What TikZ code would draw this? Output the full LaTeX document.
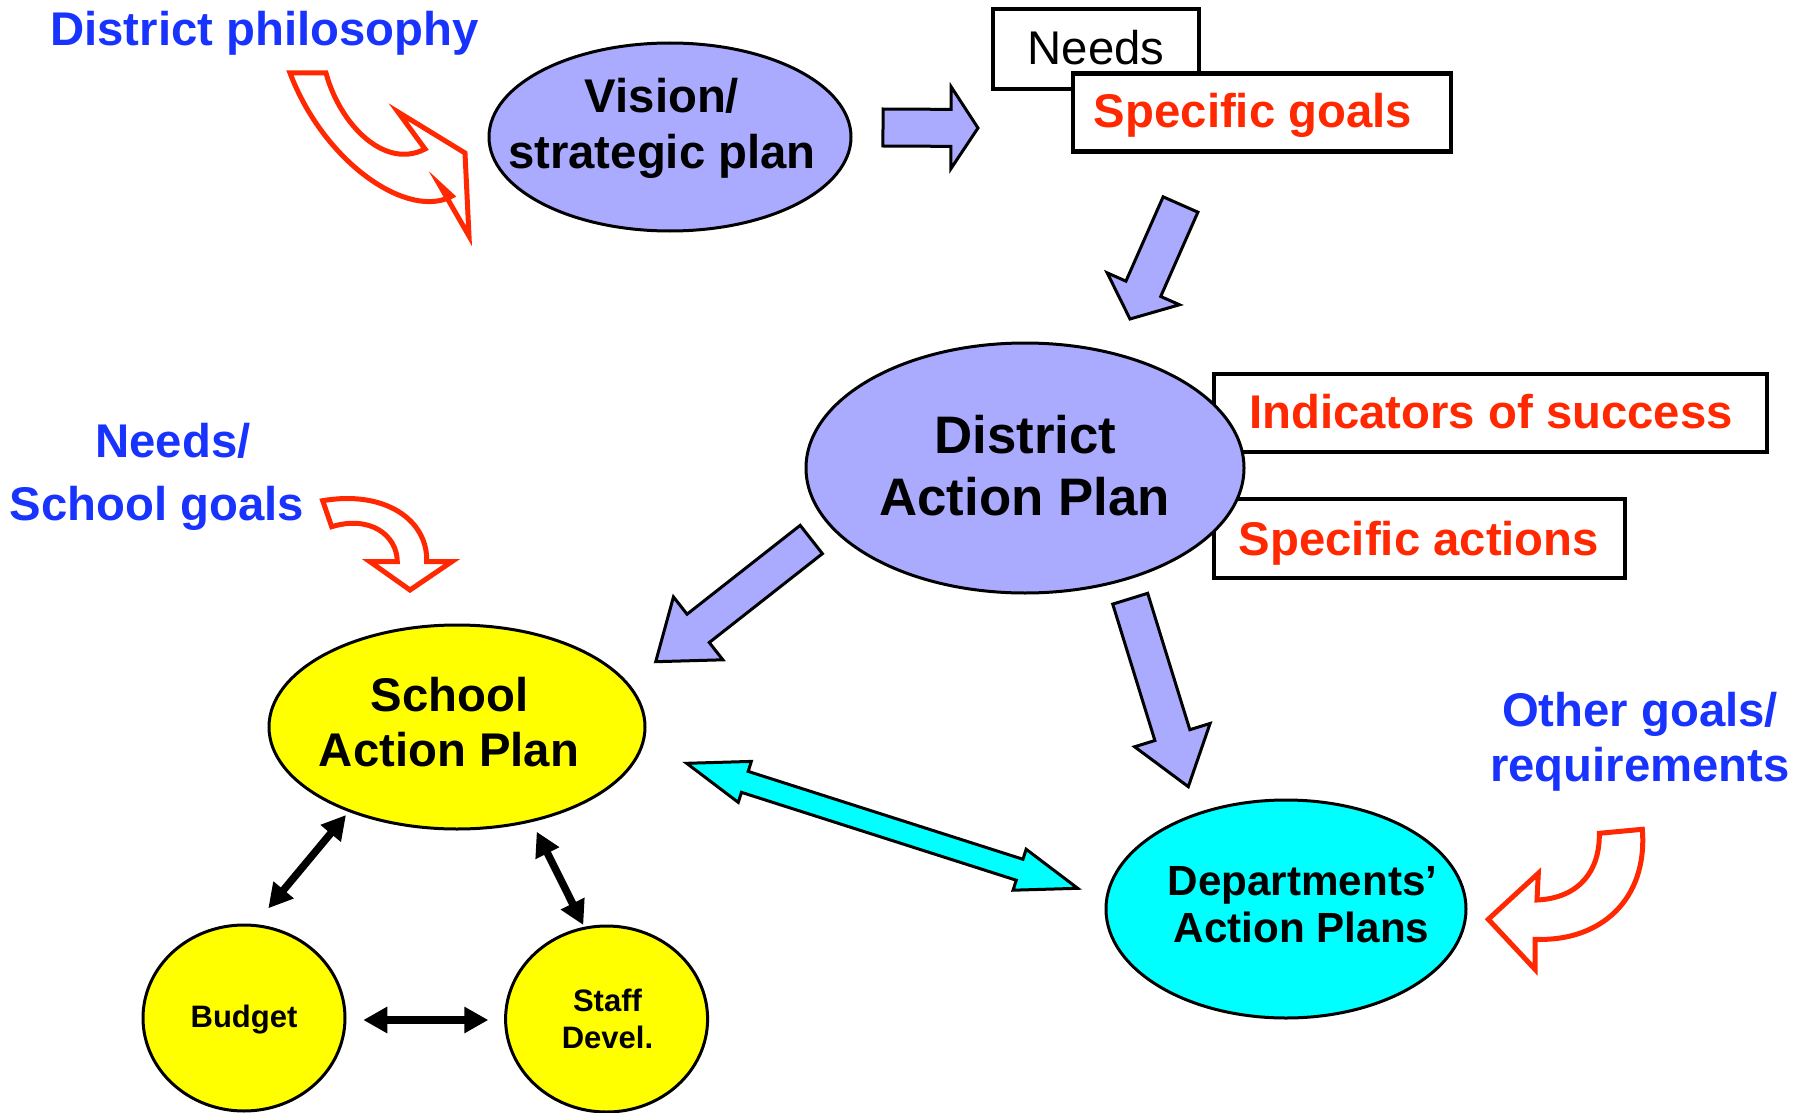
\documentclass[tikz,border=0pt]{standalone}
\usepackage{fontspec}
\setmainfont{Liberation Sans}
\usetikzlibrary{calc,shapes.geometric,arrows.meta}

\definecolor{lav}{RGB}{170,170,255}
\definecolor{aqua}{RGB}{0,255,255}
\definecolor{lemon}{RGB}{255,255,0}
\definecolor{redc}{RGB}{255,40,0}
\definecolor{bluec}{RGB}{25,51,255}

% straight block arrow: [style]{tail}{tip}{shaft half width}{head half width}{head length}
\newcommand\blockarrow[6][]{%
  \draw[#1] ($(#2)!#4!90:(#3)$)
    -- ($(#3)!#6!(#2)!#4!-90:(#2)$)
    -- ($(#3)!#6!(#2)!#5!-90:(#2)$)
    -- (#3)
    -- ($(#3)!#6!(#2)!#5!90:(#2)$)
    -- ($(#3)!#6!(#2)!#4!90:(#2)$)
    -- ($(#2)!#4!-90:(#3)$) -- cycle;}

% two-headed block arrow: [style]{tip A}{tip B}{shaft half width}{head half width}{head length}
\newcommand\dblockarrow[6][]{%
  \draw[#1] (#2)
    -- ($(#2)!#6!(#3)!#5!90:(#3)$)
    -- ($(#2)!#6!(#3)!#4!90:(#3)$)
    -- ($(#3)!#6!(#2)!#4!-90:(#2)$)
    -- ($(#3)!#6!(#2)!#5!-90:(#2)$)
    -- (#3)
    -- ($(#3)!#6!(#2)!#5!90:(#2)$)
    -- ($(#3)!#6!(#2)!#4!90:(#2)$)
    -- ($(#2)!#6!(#3)!#4!-90:(#3)$)
    -- ($(#2)!#6!(#3)!#5!-90:(#3)$)
    -- cycle;}

\begin{document}
\begin{tikzpicture}[x=1pt,y=-1pt,
  oval/.style={ellipse,draw=black,line width=3pt,inner sep=0pt},
  box/.style={rectangle,draw=black,line width=4.5pt,fill=white,inner sep=0pt},
  txt/.style={anchor=base,inner sep=0pt},
  bluetxt/.style={txt,text=bluec,font=\bfseries\fontsize{47.3}{56}\selectfont},
  redtxt/.style={txt,text=redc,font=\bfseries\fontsize{47.3}{56}\selectfont},
  blacktxt/.style={txt,font=\bfseries\fontsize{47.3}{56}\selectfont},
  plaintxt/.style={txt,font=\fontsize{47.3}{56}\selectfont},
  bigtxt/.style={txt,font=\bfseries\fontsize{52.8}{60}\selectfont},
  medtxt/.style={txt,font=\bfseries\fontsize{42.2}{48}\selectfont},
  smalltxt/.style={txt,font=\bfseries\fontsize{31}{37}\selectfont},
  lavarrow/.style={draw=black,line width=3pt,fill=lav,line join=miter},
  aquaarrow/.style={draw=black,line width=3pt,fill=aqua,line join=miter},
  curvy/.style={draw=redc,line width=5pt,fill=white,line join=miter},
  biarrow/.style={line width=7.5pt,{Triangle[length=24pt,width=25pt]}-{Triangle[length=24pt,width=25pt]}}
]
\useasboundingbox[fill=white] (0,0) rectangle (1810,1113);

% ---- boxes beside the district plan (behind its ellipse)
\node[box,minimum width=553pt,minimum height=78pt] (indbox) at (1490.5,413) {};
\node[box,minimum width=411pt,minimum height=79pt] (actbox) at (1419.5,538.7) {};

% ---- boxes for needs and goals
\node[box,minimum width=206pt,minimum height=80pt] (needsbox) at (1096,49) {};
\node[box,minimum width=378pt,minimum height=78pt] (goalsbox) at (1262,112.5) {};

% ---- plan ellipses
\node[oval,fill=lav,minimum width=362pt,minimum height=188pt] (vision) at (670,137) {};
\node[oval,fill=lav,minimum width=438pt,minimum height=250pt] (district) at (1025,468) {};
\node[oval,fill=lemon,minimum width=376pt,minimum height=204pt] (school) at (457,727) {};
\node[oval,fill=aqua,minimum width=360pt,minimum height=218pt] (depts) at (1286,909) {};
\node[oval,fill=lemon,minimum width=202pt,minimum height=186pt] (budget) at (244,1018) {};
\node[oval,fill=lemon,minimum width=202pt,minimum height=186pt] (staff) at (606.6,1019) {};

% ---- texts
\node[bluetxt] (philo) at (264.5,46) {District philosophy};
\node[blacktxt] (vis1) at (662,113) {Vision/};
\node[blacktxt] (vis2) at (662,168) {strategic plan};
\node[plaintxt] (needst) at (1096,65) {Needs};
\node[redtxt] (goalst) at (1253,128) {Specific goals};
\node[bigtxt] (dist1) at (1025.5,453.5) {District};
\node[bigtxt] (dist2) at (1024.5,515) {Action Plan};
\node[redtxt] (indt) at (1491,428.5) {Indicators of success};
\node[redtxt] (actt) at (1419,555) {Specific actions};
\node[blacktxt] (sch1) at (449.5,711) {School};
\node[blacktxt] (sch2) at (449,766) {Action Plan};
\node[medtxt] (dep1) at (1302.5,895) {Departments’};
\node[medtxt] (dep2) at (1301.5,942) {Action Plans};
\node[smalltxt] (budt) at (244,1027) {Budget};
\node[smalltxt] (stf1) at (607.5,1011) {Staff};
\node[smalltxt] (stf2) at (607.5,1048) {Devel.};
\node[bluetxt] (ng1) at (173,457) {Needs/};
\node[bluetxt] (ng2) at (157,520) {School goals};
\node[bluetxt] (og1) at (1640,726) {Other goals/};
\node[bluetxt] (og2) at (1640,781) {requirements};

% ---- block arrow ends
\coordinate (a1s) at (883,127.5);   \coordinate (a1t) at (978,128);
\coordinate (a2s) at (1180.5,204.5); \coordinate (a2t) at (1130,319);
\coordinate (a3s) at (811.3,539.5); \coordinate (a3t) at (655.7,661.7);
\coordinate (a4s) at (1130.2,598.7); \coordinate (a4t) at (1188.3,786.7);
\coordinate (c1) at (686.7,763.3);  \coordinate (c2) at (1077.7,888.3);

\blockarrow[lavarrow]{a1s}{a1t}{18.5pt}{41pt}{27pt}
\blockarrow[lavarrow]{a2s}{a2t}{19pt}{39.5pt}{33pt}
\blockarrow[lavarrow]{a3s}{a3t}{18pt}{40pt}{54pt}
\blockarrow[lavarrow]{a4s}{a4t}{18.3pt}{39.5pt}{54pt}
\dblockarrow[aquaarrow]{c1}{c2}{11pt}{21.5pt}{61pt}

% ---- links between the school plan, budget and staff development
\coordinate (sb1) at (346,815);   \coordinate (sb2) at (268.3,908.3);
\coordinate (ss1) at (536.7,831.7); \coordinate (ss2) at (583.3,925);
\coordinate (bs1) at (363.3,1020); \coordinate (bs2) at (488.3,1020);
\draw[biarrow] (sb1) -- (sb2);
\draw[biarrow] (ss1) -- (ss2);
\draw[biarrow] (bs1) -- (bs2);

% ---- hollow curved red arrows
\draw[curvy] (290,73) -- (326,73)
  .. controls (340,125) and (385,170) .. (425,149)
  -- (398,112) -- (465,153) -- (469,236) -- (439,184) -- (452,196)
  .. controls (410,220) and (325,165) .. cycle;
\draw[curvy] (322.7,500.7)
  .. controls (385,490) and (428,520) .. (426.7,561.7)
  -- (451.7,561.7) -- (410,590) -- (370,561.7) -- (397.3,561.7)
  .. controls (397,535) and (370,515) .. (331.7,526.7) -- cycle;
\draw[curvy] (1599.3,833.3) -- (1642.3,829.3)
  .. controls (1648,900) and (1600,942) .. (1535,939.3)
  -- (1535,969.3) -- (1488.3,919.3) -- (1538.3,873.3) -- (1537,900)
  .. controls (1580,898) and (1600,870) .. cycle;
\end{tikzpicture}
\end{document}
